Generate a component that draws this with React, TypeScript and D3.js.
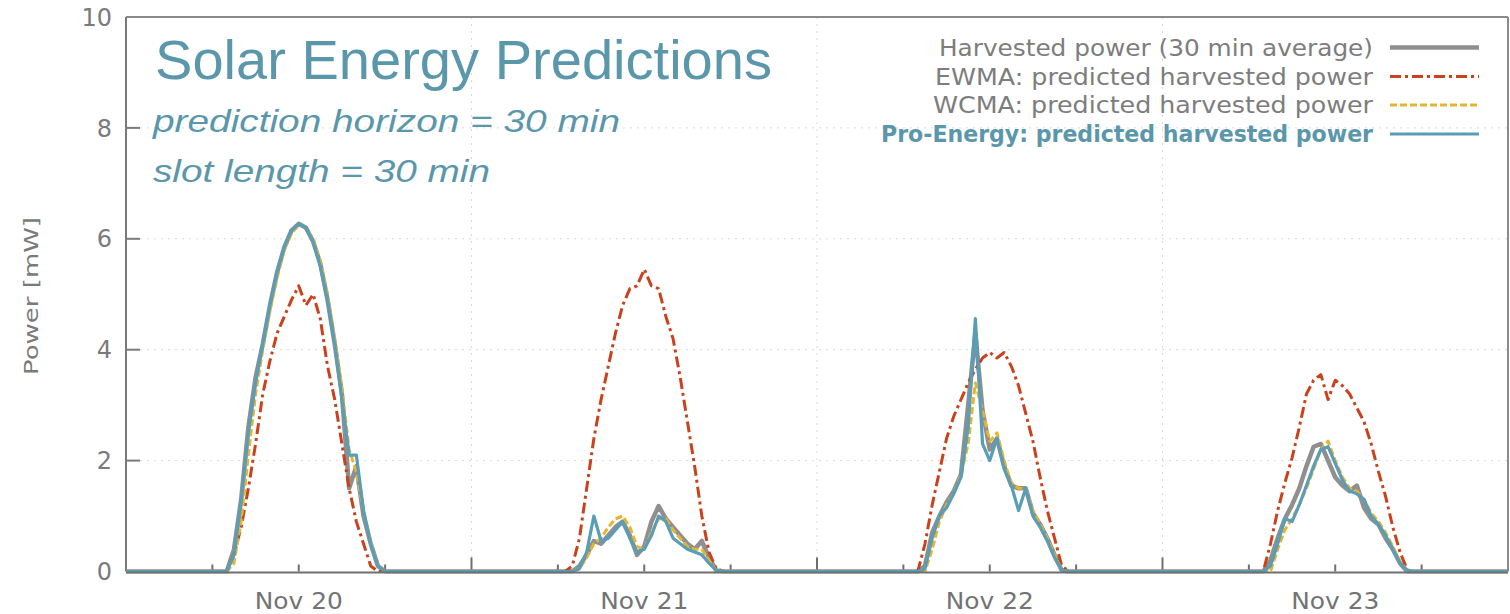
import React from "react";
import * as d3 from "d3";

// ---- data (30-min slots, 06:00 .. 18:00 each day) ----
const dayLabels = ["Nov 20", "Nov 21", "Nov 22", "Nov 23"];
const slotStartHour = 6;
const slotHours = 0.5;
const yTicks = [0, 2, 4, 6, 8, 10];

const harvestedNov20 = [0, 0, 0, 0.4, 1.3, 2.6, 3.5, 4.1, 4.8, 5.4, 5.85, 6.15, 6.27, 6.2, 5.95, 5.55, 4.9, 4.1, 3.2, 1.5, 1.9, 1.0, 0.5, 0.1, 0];
const harvestedNov21 = [0, 0, 0, 0.1, 0.3, 0.55, 0.5, 0.65, 0.8, 0.9, 0.65, 0.3, 0.45, 0.9, 1.18, 0.95, 0.8, 0.65, 0.5, 0.4, 0.55, 0.25, 0.02, 0, 0];
const harvestedNov22 = [0, 0, 0, 0.1, 0.7, 1.0, 1.25, 1.45, 1.75, 3.0, 4.3, 2.9, 2.2, 2.4, 1.9, 1.55, 1.5, 1.5, 1.05, 0.85, 0.6, 0.3, 0.02, 0, 0];
const harvestedNov23 = [0, 0, 0, 0.2, 0.6, 0.95, 1.2, 1.5, 1.9, 2.25, 2.3, 2.0, 1.7, 1.55, 1.45, 1.55, 1.15, 0.95, 0.85, 0.6, 0.4, 0.15, 0, 0, 0];

const ewmaNov20 = [0, 0, 0, 0.3, 0.8, 1.5, 2.3, 3.2, 3.8, 4.3, 4.6, 4.9, 5.15, 4.8, 5.0, 4.55, 3.7, 3.1, 2.3, 1.5, 0.9, 0.5, 0.1, 0, 0];
const ewmaNov21 = [0, 0, 0.1, 0.6, 1.5, 2.4, 3.1, 3.7, 4.3, 4.8, 5.1, 5.15, 5.45, 5.15, 5.1, 4.6, 4.2, 3.5, 2.7, 1.9, 1.0, 0.35, 0.05, 0, 0];
const ewmaNov22 = [0, 0, 0, 0.5, 1.2, 1.8, 2.4, 2.8, 3.1, 3.4, 3.65, 3.85, 3.95, 3.85, 3.95, 3.7, 3.35, 2.85, 2.35, 1.7, 1.1, 0.6, 0.1, 0, 0];
const ewmaNov23 = [0, 0, 0, 0.5, 1.1, 1.6, 2.05, 2.6, 3.2, 3.45, 3.55, 3.1, 3.45, 3.35, 3.2, 2.95, 2.7, 2.3, 1.8, 1.35, 0.8, 0.35, 0.03, 0, 0];

const wcmaNov20 = [0, 0, 0, 0.15, 0.9, 2.1, 3.2, 4.0, 4.7, 5.3, 5.8, 6.1, 6.25, 6.2, 6.0, 5.6, 5.0, 4.2, 3.3, 2.2, 1.8, 1.1, 0.55, 0.1, 0];
const wcmaNov21 = [0, 0, 0, 0.05, 0.25, 0.5, 0.6, 0.8, 0.95, 1.0, 0.8, 0.45, 0.4, 0.7, 0.95, 0.95, 0.75, 0.6, 0.45, 0.4, 0.4, 0.2, 0.02, 0, 0];
const wcmaNov22 = [0, 0, 0, 0, 0.4, 0.9, 1.2, 1.4, 1.75, 2.3, 3.4, 2.9, 2.35, 2.5, 2.0, 1.6, 1.5, 1.5, 1.1, 0.85, 0.6, 0.3, 0.02, 0, 0];
const wcmaNov23 = [0, 0, 0, 0, 0.4, 0.75, 0.95, 1.2, 1.5, 1.85, 2.2, 2.35, 2.0, 1.7, 1.5, 1.45, 1.3, 1.05, 0.9, 0.7, 0.45, 0.18, 0.02, 0, 0];

const proNov20 = [0, 0, 0, 0.3, 1.25, 2.5, 3.4, 4.1, 4.8, 5.4, 5.85, 6.15, 6.27, 6.2, 5.95, 5.5, 4.9, 4.1, 3.1, 2.1, 2.1, 1.1, 0.5, 0.1, 0];
const proNov21 = [0, 0, 0, 0.05, 0.35, 1.0, 0.55, 0.6, 0.75, 0.9, 0.6, 0.35, 0.4, 0.65, 1.0, 0.9, 0.6, 0.5, 0.4, 0.35, 0.3, 0.15, 0.02, 0, 0];
const proNov22 = [0, 0, 0, 0.05, 0.6, 1.0, 1.15, 1.4, 1.7, 2.6, 4.56, 2.3, 2.0, 2.4, 1.85, 1.55, 1.1, 1.5, 1.0, 0.8, 0.55, 0.25, 0.02, 0, 0];
const proNov23 = [0, 0, 0, 0.1, 0.5, 0.95, 0.9, 1.2, 1.55, 1.9, 2.2, 2.25, 1.95, 1.65, 1.45, 1.4, 1.3, 1.0, 0.85, 0.65, 0.4, 0.15, 0.02, 0, 0];

const seriesDefs = [
  { name: "Harvested power (30 min average)", days: [harvestedNov20, harvestedNov21, harvestedNov22, harvestedNov23], color: "#8f8f8f", width: 4.5, dash: "", legendW: 434, legendColor: "#7d7d7d", bold: false },
  { name: "EWMA: predicted harvested power", days: [ewmaNov20, ewmaNov21, ewmaNov22, ewmaNov23], color: "#c9421c", width: 3, dash: "11,4,3,4", legendW: 438, legendColor: "#7d7d7d", bold: false },
  { name: "WCMA: predicted harvested power", days: [wcmaNov20, wcmaNov21, wcmaNov22, wcmaNov23], color: "#e6b530", width: 3, dash: "7,3", legendW: 440, legendColor: "#7d7d7d", bold: false },
  { name: "Pro-Energy: predicted harvested power", days: [proNov20, proNov21, proNov22, proNov23], color: "#5a9db6", width: 3.2, dash: "", legendW: 492, legendColor: "#5a97ab", bold: true },
];

const W = 1510;
const H = 614;
const L = 126, T = 17, R = 1508, B = 571.5;
const totalHours = dayLabels.length * 24;

export default function App() {
  const x = d3.scaleLinear().domain([0, totalHours]).range([L, R]);
  const y = d3.scaleLinear().domain([0, 10]).range([B, T]);

  const toPoints = (days: number[][]) => {
    const pts: [number, number][] = [[0, 0]];
    days.forEach((vals, d) => {
      vals.forEach((v, i) => pts.push([d * 24 + slotStartHour + i * slotHours, v]));
    });
    pts.push([totalHours, 0]);
    return pts;
  };
  const line = d3.line<[number, number]>().x((p) => x(p[0])).y((p) => y(p[1]));

  const sixHourTicks = d3.range(6, totalHours, 6);
  const midnights = d3.range(24, totalHours, 24);

  const sans = "'DejaVu Sans', Verdana, sans-serif";
  const arial = "'Liberation Sans', Arial, sans-serif";
  const teal = "#5b97aa";

  return (
    <svg width={W} height={H} style={{ position: "absolute", left: 0, top: 0, background: "#fff" }}>
      <defs>
        <clipPath id="plotclip">
          <rect x={L} y={T} width={R - L} height={B - T + 2} />
        </clipPath>
      </defs>
      {/* grid */}
      {yTicks.filter((t) => t > 0 && t < 10).map((t) => (
        <line key={"gy" + t} x1={L} x2={R} y1={y(t)} y2={y(t)} stroke="#d8d8d8" strokeWidth={1} strokeDasharray="2,5" />
      ))}
      {midnights.map((h) => (
        <line key={"gx" + h} x1={x(h)} x2={x(h)} y1={T} y2={B} stroke="#d8d8d8" strokeWidth={1} strokeDasharray="2,5" />
      ))}

      {/* frame */}
      <line x1={L} x2={R} y1={T} y2={T} stroke="#8a8a8a" strokeWidth={2} />
      <line x1={R} x2={R} y1={T} y2={B} stroke="#8a8a8a" strokeWidth={2} />
      <line x1={L} x2={L} y1={T} y2={B} stroke="#7a7a7a" strokeWidth={2} />

      {/* y ticks */}
      {yTicks.map((t) => (
        <g key={"yt" + t}>
          {t > 0 && t < 10 && <line x1={L} x2={L + 14} y1={y(t)} y2={y(t)} stroke="#7a7a7a" strokeWidth={2} />}
          <text x={112} y={y(t)} dy="0.36em" textAnchor="end" fontFamily={sans} fontSize={24} fill="#7a7a7a">{t}</text>
        </g>
      ))}

      {/* x ticks */}
      {sixHourTicks.map((h) => (
        <line key={"xt" + h} x1={x(h)} x2={x(h)} y1={B} y2={B - (h % 24 === 0 ? 14 : 7)} stroke="#6f6f6f" strokeWidth={2} />
      ))}
      {dayLabels.map((lab, d) => (
        <text key={lab} x={x(d * 24 + 12)} y={609} textAnchor="middle" fontFamily={sans} fontSize={23} fill="#737373" textLength={88} lengthAdjust="spacingAndGlyphs">{lab}</text>
      ))}

      {/* y label */}
      <text transform={`translate(38,296) rotate(-90)`} textAnchor="middle" fontFamily={sans} fontSize={20} fill="#7a7a7a" textLength={158} lengthAdjust="spacingAndGlyphs">Power [mW]</text>

      {/* series */}
      <g clipPath="url(#plotclip)">
        {seriesDefs.map((s) => (
          <path key={s.name} d={line(toPoints(s.days)) || ""} fill="none" stroke={s.color} strokeWidth={s.width} strokeDasharray={s.dash || undefined} strokeLinejoin="round" />
        ))}
      </g>

      {/* x axis line */}
      <line x1={L} x2={R} y1={B + 1} y2={B + 1} stroke="#6f6f6f" strokeWidth={2} />

      {/* title */}
      <text x={155} y={79} fontFamily={arial} fontSize={56} fill={teal} textLength={617} lengthAdjust="spacingAndGlyphs">Solar Energy Predictions</text>
      <text x={153} y={132} fontFamily={arial} fontSize={32} fontStyle="italic" fill={teal} textLength={467} lengthAdjust="spacingAndGlyphs">prediction horizon = 30 min</text>
      <text x={153} y={182} fontFamily={arial} fontSize={32} fontStyle="italic" fill={teal} textLength={337} lengthAdjust="spacingAndGlyphs">slot length = 30 min</text>

      {/* legend */}
      {seriesDefs.map((s, i) => {
        const ly = [47.5, 76.5, 105, 134][i];
        return (
          <g key={"lg" + i}>
            <text x={1373} y={ly} dy="0.36em" textAnchor="end" fontFamily={sans} fontSize={23} fontWeight={s.bold ? "bold" : "normal"} fill={s.legendColor} textLength={s.legendW} lengthAdjust="spacingAndGlyphs">{s.name}</text>
            <line x1={1390} x2={1479} y1={ly} y2={ly} stroke={s.color} strokeWidth={s.width} strokeDasharray={s.dash || undefined} />
          </g>
        );
      })}
    </svg>
  );
}
